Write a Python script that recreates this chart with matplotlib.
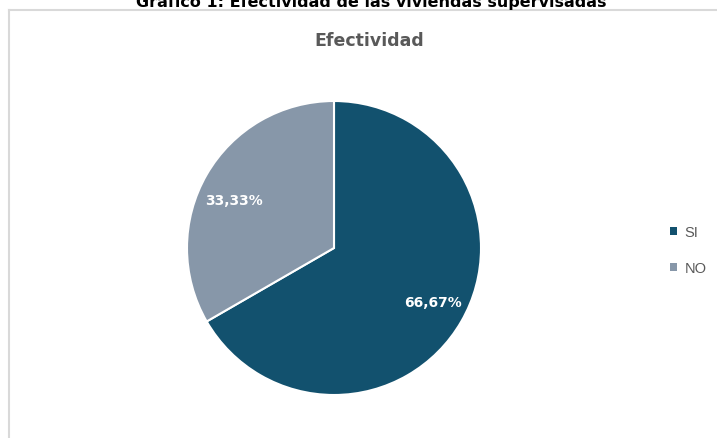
import matplotlib.pyplot as plt
from matplotlib.lines import Line2D
from matplotlib.patches import Patch

labels = ['SI', 'NO']
values = [66.67, 33.33]
colors = ['#12516e', '#8797a9']
value_text = ['66,67%', '33,33%']

W, H = 717, 439
fig = plt.figure(figsize=(W / 100, H / 100), dpi=100)

# chart frame (top and left edges visible)
fig.add_artist(Line2D([8.5 / W, 8.5 / W], [0, 1 - 10.5 / H], transform=fig.transFigure,
                      color='#d9d9d9', lw=1.5))
fig.add_artist(Line2D([8.5 / W, 1], [1 - 10.5 / H, 1 - 10.5 / H], transform=fig.transFigure,
                      color='#d9d9d9', lw=1.5))

# document caption, cut at top
fig.text(371 / W, 1 - 7 / H, 'Gráfico 1: Efectividad de las viviendas supervisadas',
         ha='center', va='baseline', fontsize=11.5, fontweight='bold', color='black')

fig.text(369 / W, 1 - 46 / H, 'Efectividad', ha='center', va='baseline',
         fontsize=12.5, fontweight='bold', color='#595959')

cx, cy, r = 334, 249, 147
ax = fig.add_axes([(cx - r) / W, (H - cy - r) / H, 2 * r / W, 2 * r / H])
wedges, _ = ax.pie(values, colors=colors, startangle=90, counterclock=False, radius=1,
                   wedgeprops=dict(edgecolor='white', linewidth=1.5))
ax.set_xlim(-1, 1)
ax.set_ylim(-1, 1)
ax.set_aspect('auto')
ax.axis('off')

# data labels
label_pos = [(433, 303), (234.5, 201)]
for (px, py), t in zip(label_pos, value_text):
    fig.text(px / W, 1 - py / H, t, ha='center', va='center', fontsize=10,
             fontweight='bold', color='white')

handles = [Patch(facecolor=c, edgecolor='none') for c in colors]
fig.legend(handles, labels, loc='upper left', bbox_to_anchor=(670 / W, 1 - 226 / H),
           frameon=False, handlelength=0.5, handleheight=0.5, handletextpad=0.5,
           labelspacing=1.5, borderpad=0, borderaxespad=0,
           prop={'family': 'Liberation Sans', 'size': 10.5}, labelcolor='#595959')

fig.savefig('out.png', dpi=100)
